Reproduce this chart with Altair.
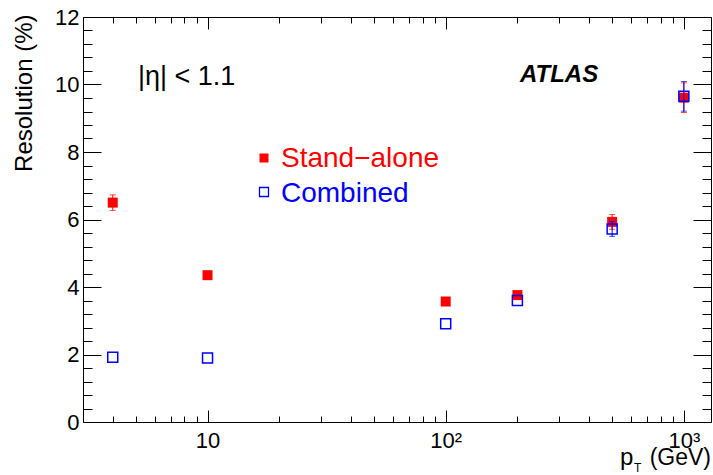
import altair as alt
import pandas as pd

# ---------------- data ----------------
pt = [4, 10, 100, 200, 500, 1000]
standalone = [6.50, 4.35, 3.57, 3.76, 5.93, 9.61]
standalone_err = [0.23, 0.05, 0.05, 0.05, 0.22, 0.44]
combined = [1.92, 1.90, 2.91, 3.60, 5.72, 9.65]
combined_err = [0.03, 0.03, 0.04, 0.05, 0.22, 0.44]

x_major = [10, 100, 1000]
x_major_labels = ["10", "10²", "10³"]
x_minor = [4, 5, 6, 7, 8, 9, 20, 30, 40, 50, 60, 70, 80, 90,
           200, 300, 400, 500, 600, 700, 800, 900]
y_major = [0, 2, 4, 6, 8, 10, 12]
y_minor = [0.4, 0.8, 1.2, 1.6, 2.4, 2.8, 3.2, 3.6, 4.4, 4.8, 5.2, 5.6,
           6.4, 6.8, 7.2, 7.6, 8.4, 8.8, 9.2, 9.6, 10.4, 10.8, 11.2, 11.6]

y_title = "Resolution (%)"
series_labels = ["Stand−alone", "Combined"]
eta_label = "|η| < 1.1"
atlas_label = "ATLAS"

df = pd.DataFrame({
    "pt": pt,
    "sa": standalone,
    "sa_err": standalone_err,
    "sa_lo": [v - e for v, e in zip(standalone, standalone_err)],
    "sa_hi": [v + e for v, e in zip(standalone, standalone_err)],
    "cb": combined,
    "cb_err": combined_err,
    "cb_lo": [v - e for v, e in zip(combined, combined_err)],
    "cb_hi": [v + e for v, e in zip(combined, combined_err)],
})

W, H = 628, 405
FONT = "Liberation Sans"
RED = "#ff0000"
BLUE = "#0000ff"

xs = alt.Scale(type="log", domain=[3, 1300], nice=False)
ys = alt.Scale(domain=[0, 12], nice=False, zero=False)

label_expr = " : ".join(
    f"datum.value == {v} ? '{l}'" for v, l in zip(x_major, x_major_labels)
) + " : ''"


def tick_axis(orient, values, size, offset):
    return alt.Axis(orient=orient, values=values, tickSize=size, offset=offset,
                    labels=False, domain=False, grid=False, title=None,
                    ticks=True, tickColor="black", tickWidth=1)


A1 = alt.Axis(orient="bottom", values=x_major, labelExpr=label_expr,
              labelFont=FONT, labelFontSize=22, labelColor="black",
              labelPadding=8, labelFlush=False, labelOverlap=False,
              ticks=False, domain=False, grid=False, title=None)
A2 = tick_axis("top", x_major, 12, -H)
A3 = tick_axis("top", x_minor, 6, -H)
A4 = tick_axis("bottom", x_major, 12, -H)
A5 = tick_axis("bottom", x_minor, 6, -H)

B1 = alt.Axis(orient="left", values=y_major, labelFont=FONT, labelFontSize=22,
              labelColor="black", labelPadding=4, labelFlush=False,
              labelOverlap=False, ticks=False, domain=False, grid=False,
              title=y_title, titleFont=FONT, titleFontSize=24,
              titleFontWeight="normal", titleColor="black", titleAngle=270,
              titleAlign="right", titleBaseline="alphabetic",
              titleX=-52, titleY=-3)
B2 = tick_axis("right", y_major, 18, -W)
B3 = tick_axis("right", y_minor, 9, -W)
B4 = tick_axis("left", y_major, 18, -W)
B5 = tick_axis("left", y_minor, 9, -W)

base = alt.Chart(df)
# error bars shorter than the marker are hidden by it (as in ROOT)
sa_bars = base.transform_filter("datum.sa_err > 0.16")
cb_bars = base.transform_filter("datum.cb_err > 0.16")

red_rule = sa_bars.mark_rule(color=RED, strokeWidth=1).encode(
    x=alt.X("pt:Q", scale=xs, axis=A1),
    y=alt.Y("sa_lo:Q", scale=ys, axis=B1),
    y2="sa_hi:Q",
)
red_cap_lo = sa_bars.mark_tick(orient="horizontal", size=6, thickness=1, color=RED).encode(
    x=alt.X("pt:Q", scale=xs, axis=A2),
    y=alt.Y("sa_lo:Q", scale=ys, axis=B2),
)
red_cap_hi = sa_bars.mark_tick(orient="horizontal", size=6, thickness=1, color=RED).encode(
    x=alt.X("pt:Q", scale=xs, axis=A3),
    y=alt.Y("sa_hi:Q", scale=ys, axis=B3),
)
red_pts = base.mark_point(shape="square", filled=True, size=100, color=RED, opacity=1).encode(
    x=alt.X("pt:Q", scale=xs, axis=A4),
    y=alt.Y("sa:Q", scale=ys, axis=B4),
)
blue_rule = cb_bars.mark_rule(color=BLUE, strokeWidth=1).encode(
    x=alt.X("pt:Q", scale=xs, axis=A5),
    y=alt.Y("cb_lo:Q", scale=ys, axis=B5),
    y2="cb_hi:Q",
)
blue_cap_lo = cb_bars.mark_tick(orient="horizontal", size=6, thickness=1, color=BLUE).encode(
    x=alt.X("pt:Q", scale=xs, axis=None),
    y=alt.Y("cb_lo:Q", scale=ys, axis=None),
)
blue_cap_hi = cb_bars.mark_tick(orient="horizontal", size=6, thickness=1, color=BLUE).encode(
    x=alt.X("pt:Q", scale=xs, axis=None),
    y=alt.Y("cb_hi:Q", scale=ys, axis=None),
)
blue_pts = base.mark_point(shape="square", filled=False, size=100, color=BLUE,
                           strokeWidth=1.5, opacity=1).encode(
    x=alt.X("pt:Q", scale=xs, axis=None),
    y=alt.Y("cb:Q", scale=ys, axis=None),
)

one = alt.Data(values=[{"a": 1}])


def text(t, x, y, size, color="black", align="left", **kw):
    return alt.Chart(one).mark_text(text=t, font=FONT, fontSize=size, color=color,
                                    align=align, baseline="alphabetic", **kw).encode(
        x=alt.value(x), y=alt.value(y))


annotations = [
    text(eta_label, 55, 68, 27),
    text(atlas_label, 437, 65, 24, fontWeight="bold", fontStyle="italic"),
    text(series_labels[0], 198, 150, 28, color=RED),
    text(series_labels[1], 198, 184.5, 28, color=BLUE),
    text("p", 537, 448, 24),
    text("T", 551, 455, 12),
    text("(GeV)", 628, 448, 23, align="right"),
    alt.Chart(one).mark_point(shape="square", filled=True, size=81, color=RED, opacity=1).encode(
        x=alt.value(181), y=alt.value(141)),
    alt.Chart(one).mark_point(shape="square", filled=False, size=81, color=BLUE,
                              strokeWidth=1.3, opacity=1).encode(
        x=alt.value(181), y=alt.value(175)),
]

chart = alt.layer(
    red_rule, red_cap_lo, red_cap_hi, red_pts,
    blue_rule, blue_cap_lo, blue_cap_hi, blue_pts,
    *annotations,
).resolve_axis(x="independent", y="independent").properties(
    width=W, height=H,
    autosize=alt.AutoSizeParams(type="none"),
    padding={"left": 83, "top": 17, "right": 2, "bottom": 53},
    background="white",
).configure_view(stroke="black", strokeWidth=1)

chart.save("out.html", embed_options={"renderer": "svg", "actions": False})
